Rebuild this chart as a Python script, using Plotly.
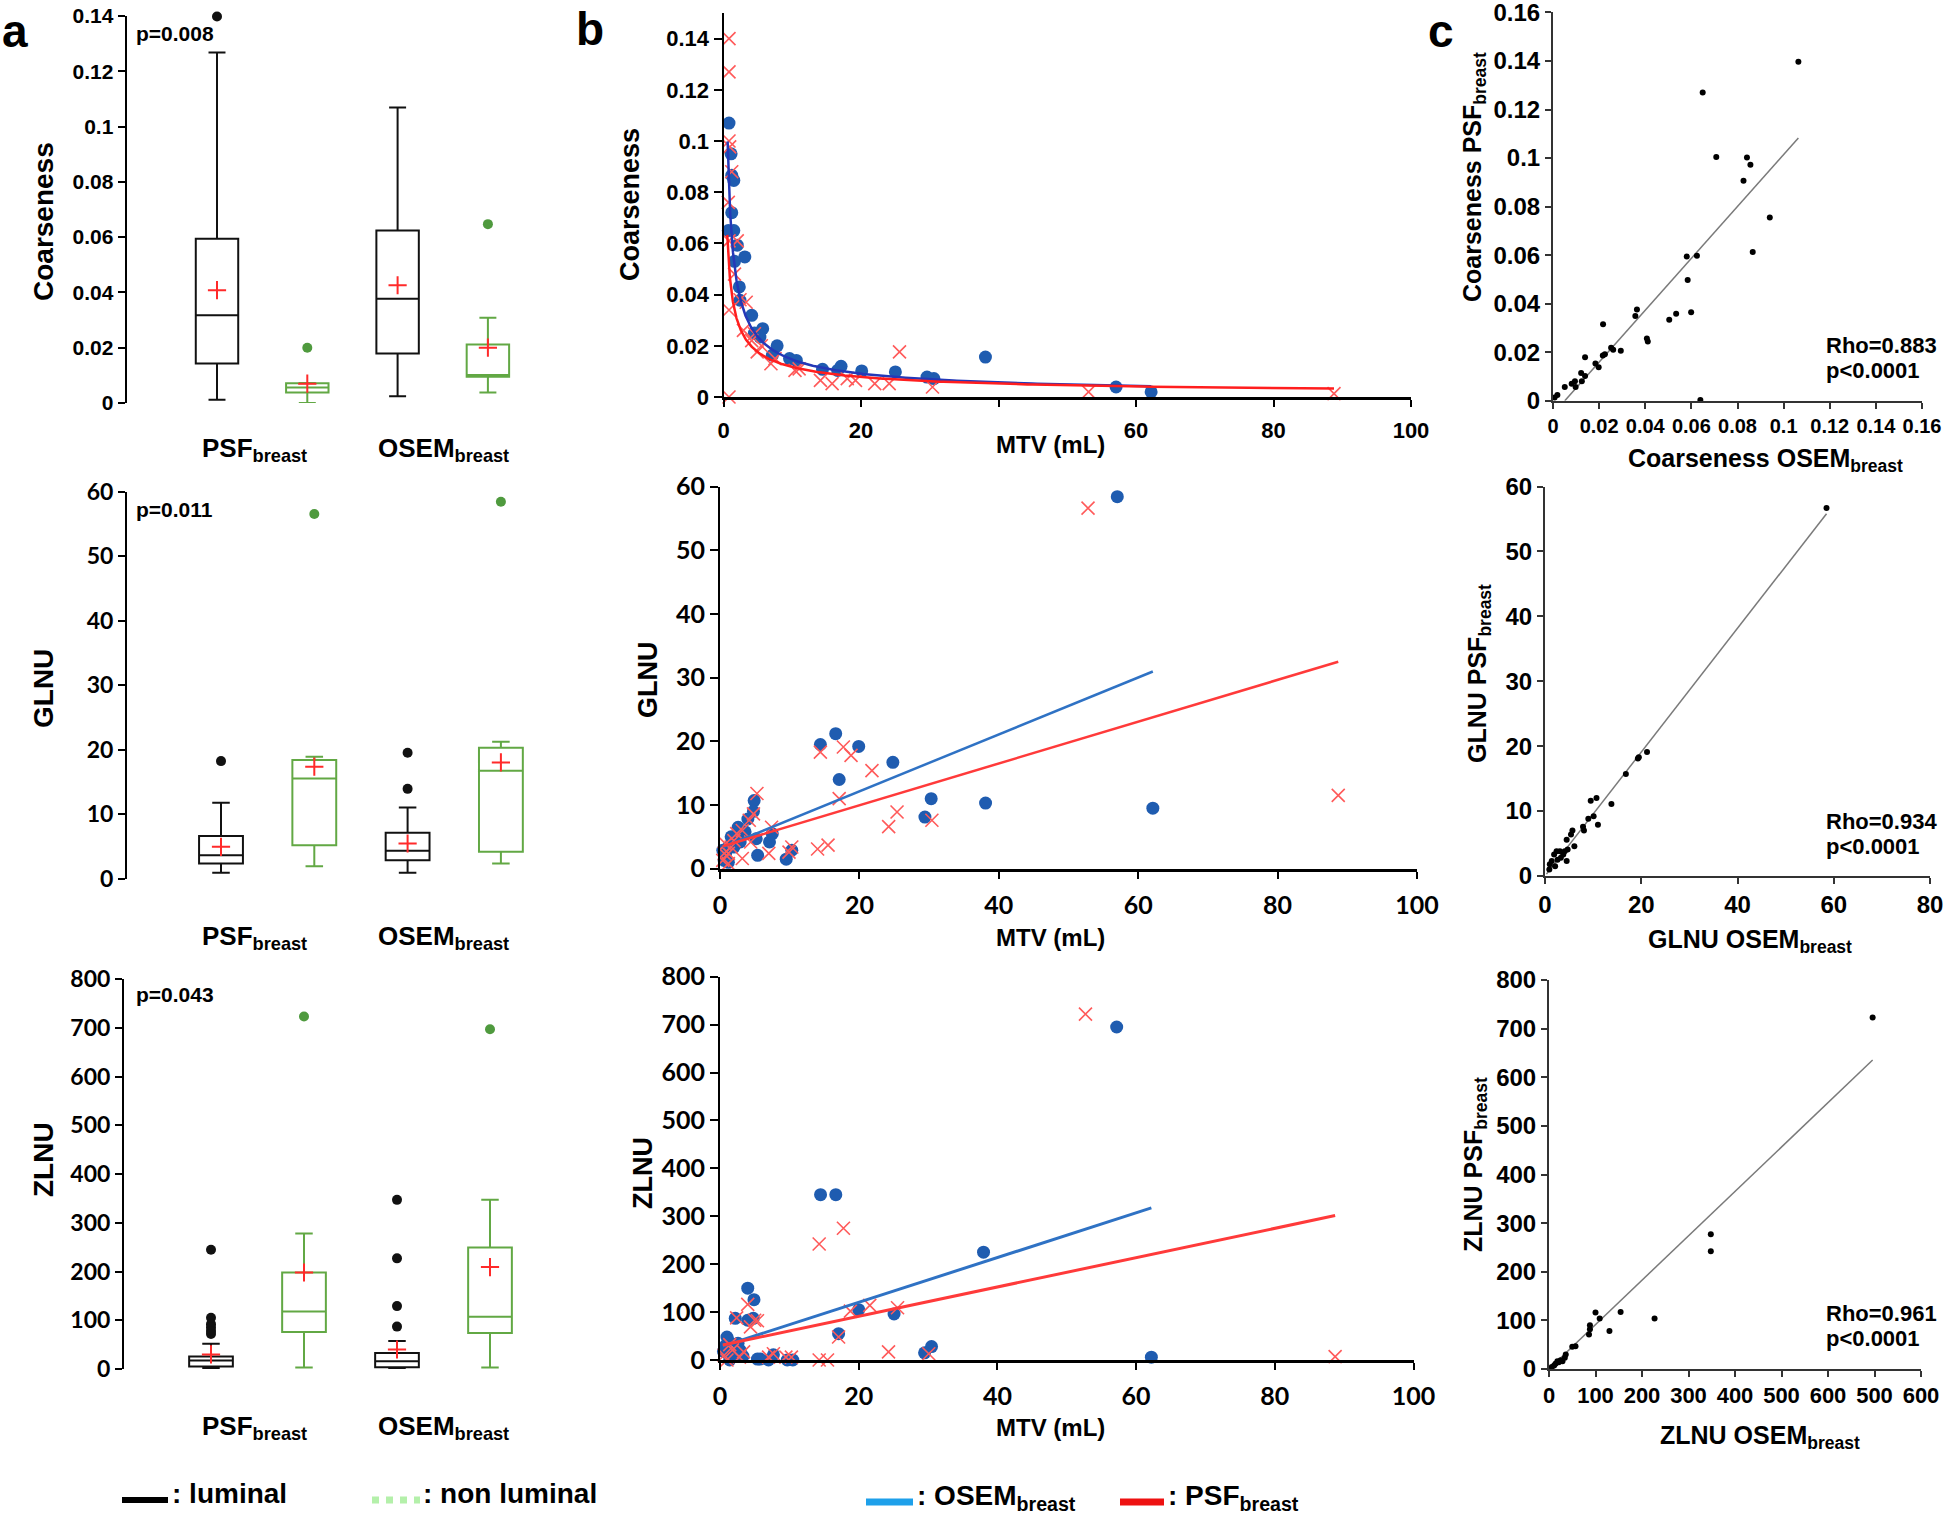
import numpy as np
import plotly.graph_objects as go

W, H = 1946, 1514

ARIAL = 'Liberation Sans, Arial, sans-serif'
CALIBRI = 'Lato, Open Sans, sans-serif'

# ---------------- panel a : box plots ----------------
# order: PSF luminal, PSF non luminal, OSEM luminal, OSEM non luminal
box_pos = [1, 2, 3, 4]

coarse_lo = [0.0012, 0.0000, 0.0024, 0.0038]
coarse_q1 = [0.0143, 0.0038, 0.0179, 0.0095]
coarse_med = [0.0317, 0.0056, 0.0377, 0.0101]
coarse_q3 = [0.0594, 0.0071, 0.0624, 0.0212]
coarse_hi = [0.1268, 0.0072, 0.1069, 0.0308]
coarse_mean = [0.0408, 0.0070, 0.0426, 0.0200]
coarse_out_pos = [1, 2, 4]
coarse_out_val = [0.1398, 0.0200, 0.0647]

glnu_lo = [0.88, 1.91, 0.88, 2.33]
glnu_q1 = [2.33, 5.17, 2.84, 4.14]
glnu_med = [3.62, 15.52, 4.29, 16.71]
glnu_q3 = [6.57, 18.36, 7.09, 20.28]
glnu_hi = [11.74, 18.88, 11.02, 21.2]
glnu_mean = [4.91, 17.33, 5.43, 18.0]
glnu_out_pos = [1, 2, 3, 3, 4]
glnu_out_val = [18.2, 56.5, 19.5, 13.9, 58.4]

zlnu_lo = [1.5, 3, 1.5, 3]
zlnu_q1 = [5, 75.7, 3.6, 74]
zlnu_med = [17.5, 118, 16, 107]
zlnu_q3 = [25.5, 198, 32.7, 249]
zlnu_hi = [51.7, 278, 57.5, 347]
zlnu_mean = [30, 198, 40, 209]
zlnu_out_pos = [1, 1, 1, 1, 1, 1, 2, 3, 3, 3, 3, 4]
zlnu_out_val = [244.5, 105, 92, 85, 78, 72, 723, 347, 227, 129, 87, 697]

p_values = ['p=0.008', 'p=0.011', 'p=0.043']

# ---------------- panel b : feature vs MTV ----------------
b_coarse_osem_x = [62.2, 57.1, 38.1, 30.6, 29.6, 25.0, 20.1, 17.1, 16.6, 14.4, 10.6, 9.6, 7.8, 7.1, 5.7,
                   5.3, 4.5, 4.1, 3.1, 2.3, 2.4, 2.0, 1.5, 1.6, 1.2, 1.5, 1.2, 1.1, 0.8, 0.7]
b_coarse_osem_y = [0.0020, 0.0039, 0.0156, 0.0072, 0.0078, 0.0098, 0.0102, 0.0120, 0.0104, 0.0108, 0.0143,
                   0.0150, 0.0200, 0.0163, 0.0267, 0.0234, 0.0250, 0.0319, 0.0547, 0.0430, 0.0378, 0.0593,
                   0.0650, 0.0530, 0.0720, 0.0846, 0.0866, 0.0950, 0.1070, 0.0650]
b_coarse_psf_x = [0.8, 0.8, 0.8, 0.9, 0.7, 0.8, 0.8, 0.8, 2.4, 3.3, 2.9, 4.1, 4.9, 4.5, 6.9, 10.4, 14.1,
                  15.8, 18.0, 19.2, 22.0, 24.1, 25.6, 30.4, 53.1, 88.8, 1.6, 2.0, 1.2, 7.5, 11.0, 5.5]
b_coarse_psf_y = [0.1400, 0.1270, 0.1000, 0.0977, 0.0760, 0.0610, 0.0340, 0.0000, 0.0380, 0.0370, 0.0260,
                  0.0220, 0.0176, 0.0247, 0.0130, 0.0104, 0.0065, 0.0052, 0.0072, 0.0065, 0.0052, 0.0052,
                  0.0176, 0.0039, 0.0020, 0.0013, 0.0480, 0.0610, 0.0880, 0.0150, 0.0110, 0.0200]
# power fits y = a * x**b : (a, b, x_start, x_end)
b_coarse_osem_fit = (0.0704, -0.683, 0.6, 62.2)
b_coarse_psf_fit = (0.0447, -0.582, 0.55, 88.8)

b_glnu_osem_x = [57.0, 62.1, 38.1, 30.3, 29.4, 24.8, 19.9, 16.6, 14.4, 17.1, 10.3, 9.5, 7.5, 7.1, 5.4, 5.2,
                 4.9, 4.8, 4.0, 3.6, 2.6, 2.4, 1.6, 1.2, 0.8, 1.2, 0.4, 0.6, 2.0, 2.9]
b_glnu_osem_y = [58.4, 9.5, 10.3, 11.0, 8.1, 16.7, 19.2, 21.2, 19.5, 14.0, 2.9, 1.5, 5.5, 4.2, 2.1, 4.7,
                 10.7, 9.0, 7.8, 5.8, 6.5, 4.7, 5.0, 3.4, 2.4, 1.0, 2.9, 1.3, 3.4, 4.2]
b_glnu_psf_x = [52.8, 88.7, 30.4, 25.4, 24.2, 21.8, 18.8, 17.7, 14.4, 17.1, 15.5, 14.0, 10.3, 9.9, 7.4, 7.0,
                5.3, 4.8, 4.2, 3.2, 3.2, 2.0, 1.2, 0.8, 0.4, 1.6, 2.4, 0.6, 1.2, 4.4]
b_glnu_psf_y = [56.6, 11.5, 7.6, 8.9, 6.6, 15.4, 17.8, 19.1, 18.3, 11.0, 3.7, 3.1, 3.4, 2.6, 6.5, 2.4,
                11.8, 8.6, 7.6, 6.0, 1.6, 4.4, 2.4, 3.9, 1.3, 3.4, 5.5, 2.4, 0.8, 4.2]
# linear fits y = slope * x + intercept : (slope, intercept, x_start, x_end)
b_glnu_osem_fit = (0.447, 3.2, 0.4, 62.1)
b_glnu_psf_fit = (0.328, 3.4, 0.4, 88.7)

b_zlnu_osem_x = [57.2, 62.2, 38.0, 30.5, 29.5, 25.1, 20.0, 16.7, 14.5, 17.1, 10.5, 9.7, 7.7, 7.0, 5.8, 5.4,
                 4.9, 4.8, 4.0, 4.0, 2.2, 2.6, 1.0, 0.5, 1.4, 1.8, 2.9, 0.8, 3.3, 1.2]
b_zlnu_osem_y = [695, 6, 225, 28, 15, 96, 105, 345, 345, 55, 0, 0, 11, 0, 2, 2,
                 126, 87, 150, 83, 87, 35, 48, 18, 0, 12, 20, 30, 8, 40]
b_zlnu_psf_x = [52.7, 88.7, 30.1, 25.6, 24.3, 21.6, 18.8, 17.8, 14.3, 17.1, 15.5, 14.3, 10.3, 9.5, 7.7, 7.0,
                5.4, 5.0, 4.4, 4.0, 2.4, 3.4, 1.4, 0.6, 1.0, 1.8, 2.8]
b_zlnu_psf_y = [722, 7, 13, 109, 17, 114, 102, 275, 242, 48, 0, 0, 6, 6, 13, 6,
                82, 83, 69, 116, 88, 17, 32, 10, 0, 21, 6]
b_zlnu_osem_fit = (4.67, 27, 0.4, 62.2)
b_zlnu_psf_fit = (3.06, 30, 0.4, 88.7)

# ---------------- panel c : PSF vs OSEM ----------------
c_coarse_osem = [0.1064, 0.0649, 0.0708, 0.0841, 0.0856, 0.0826, 0.0940, 0.0866, 0.0580, 0.0624, 0.0584,
                 0.0599, 0.0534, 0.0504, 0.0364, 0.0357, 0.0407, 0.0411, 0.0294, 0.0217, 0.0252, 0.0261,
                 0.0216, 0.0225, 0.0198, 0.0184, 0.0139, 0.0139, 0.0122, 0.0125, 0.0095, 0.0098, 0.0081,
                 0.0051, 0.0019, 0.0007, 0.0639]
c_coarse_psf = [0.1397, 0.1270, 0.1004, 0.1002, 0.0972, 0.0907, 0.0755, 0.0613, 0.0594, 0.0598, 0.0498,
                0.0365, 0.0359, 0.0334, 0.0376, 0.0349, 0.0257, 0.0244, 0.0206, 0.0315, 0.0219, 0.0210,
                0.0187, 0.0192, 0.0138, 0.0154, 0.0179, 0.0102, 0.0115, 0.0081, 0.0081, 0.0057, 0.0070,
                0.0057, 0.0024, 0.0014, 0.0003]
c_coarse_fit = (1.069, -0.00545, 0.0051, 0.1064)

c_glnu_osem = [58.5, 21.2, 19.3, 19.5, 16.8, 13.8, 10.7, 9.5, 10.1, 11.0, 9.0, 7.9, 8.1, 5.7, 6.1, 5.4,
               4.5, 4.7, 4.1, 3.8, 3.3, 4.5, 2.4, 1.9, 2.6, 1.4, 1.0, 0.9, 2.1, 3.1]
c_glnu_psf = [56.7, 19.1, 18.1, 18.3, 15.7, 11.1, 12.0, 11.6, 9.2, 7.9, 8.8, 7.6, 7.0, 7.0, 4.6, 6.4,
              5.6, 4.1, 3.8, 3.3, 2.8, 2.3, 3.8, 3.3, 2.5, 2.3, 1.8, 1.0, 1.5, 3.8]
c_glnu_fit = (0.954, 0.0, 0.3, 58.5)

c_zlnu_osem = [696, 348, 348, 227, 154, 130, 100, 109, 88, 88, 86, 57, 50, 36, 34, 25, 21, 14, 11, 6, 18, 29]
c_zlnu_psf = [723, 277, 242, 104, 117, 78, 116, 104, 90, 82, 71, 47, 46, 30, 23, 18, 14, 11, 7, 4, 16, 16]
c_zlnu_fit = (0.913, 0.0, 0.0, 696)

rho_texts = [('Rho=0.883', 'p&lt;0.0001'), ('Rho=0.934', 'p&lt;0.0001'), ('Rho=0.961', 'p&lt;0.0001')]

# tick labels
coarse_ticks = [0, 0.02, 0.04, 0.06, 0.08, 0.1, 0.12, 0.14]
coarse_ticks_c = [0, 0.02, 0.04, 0.06, 0.08, 0.1, 0.12, 0.14, 0.16]
glnu_ticks = [0, 10, 20, 30, 40, 50, 60]
zlnu_ticks = [0, 100, 200, 300, 400, 500, 600, 700, 800]
mtv_ticks = [0, 20, 40, 60, 80, 100]
glnu_ticks_c = [0, 20, 40, 60, 80]
zlnu_x_ticktext_c = ['0', '100', '200', '300', '400', '500', '600', '500', '600']

BLACK = '#111111'
GREEN = '#62a844'
GREEN_DOT = '#4f9a3e'
RED_PLUS = '#ff2a2a'
BLUE_DOT = '#1f5cb0'
RED_X = '#ff5a5a'


def fx(p):
    return p / W


def fy(p):
    return 1 - p / H


def lab(v):
    return f'{v:g}'


def tfont(size, family=ARIAL):
    return dict(family=family, size=size, color='black', weight='bold')


fig = go.Figure()
layout = {}
annotations = []


def axis_key(i):
    return '' if i == 1 else str(i)


def base_axis(**kw):
    d = dict(showline=True, linecolor='black', linewidth=2, ticks='outside', ticklen=7,
             tickwidth=2, tickcolor='black', showgrid=False, zeroline=False, mirror=False,
             automargin=False, tickangle=0)
    d.update(kw)
    return d


def note(text, x, y, size, family=ARIAL, xa='center', ya='middle', angle=0, color='black'):
    annotations.append(dict(text=text, x=fx(x), y=fy(y), xref='paper', yref='paper', xanchor=xa,
                            yanchor=ya, textangle=angle, showarrow=False,
                            font=dict(size=size, family=family, color=color)))


# ---- panel a layout: (axis_px, first_cat_px, step_px, right_px, top_px, bottom_px)
a_geo = [(126.6, 217, 90.3, 560, 16, 403),
         (127, 221, 93.3, 560, 491.5, 878.5),
         (124, 211, 93, 560, 979, 1369)]
a_stats = [
    (coarse_lo, coarse_q1, coarse_med, coarse_q3, coarse_hi, coarse_mean, coarse_out_pos, coarse_out_val),
    (glnu_lo, glnu_q1, glnu_med, glnu_q3, glnu_hi, glnu_mean, glnu_out_pos, glnu_out_val),
    (zlnu_lo, zlnu_q1, zlnu_med, zlnu_q3, zlnu_hi, zlnu_mean, zlnu_out_pos, zlnu_out_val),
]
a_yticks = [coarse_ticks, glnu_ticks, zlnu_ticks]
a_yfont = [tfont(21), tfont(23, CALIBRI), tfont(23, CALIBRI)]
a_titles = ['Coarseness', 'GLNU', 'ZLNU']
a_title_y = [222, 689, 1160]
a_label_y = [449, 937, 1427]
p_y = [33, 509, 994]

for r in range(3):
    i = r + 1
    k = axis_key(i)
    axis_px, first, step, right, top, bot = a_geo[r]
    x0 = 1 - (first - axis_px) / step
    x1 = 1 + (right - first) / step
    layout['xaxis' + k] = dict(domain=[fx(axis_px), fx(right)], range=[x0, x1], visible=False,
                               automargin=False, anchor='y' + k)
    ticks = a_yticks[r]
    layout['yaxis' + k] = base_axis(domain=[fy(bot), fy(top)], range=[ticks[0], ticks[-1]],
                                    tickvals=ticks, ticktext=[lab(t) for t in ticks],
                                    tickfont=a_yfont[r], anchor='x' + k)
    lo, q1, med, q3, hi, mean, opos, oval = a_stats[r]
    for j in range(4):
        col = BLACK if j % 2 == 0 else GREEN
        fig.add_trace(go.Box(x=[box_pos[j]], lowerfence=[lo[j]], q1=[q1[j]], median=[med[j]], q3=[q3[j]],
                             upperfence=[hi[j]], width=0.47, whiskerwidth=0.4, boxpoints=False,
                             line=dict(color=col, width=2), fillcolor='rgba(0,0,0,0)',
                             xaxis='x' + k, yaxis='y' + k, showlegend=False, hoverinfo='skip'))
    fig.add_trace(go.Scatter(x=opos, y=oval, mode='markers', xaxis='x' + k, yaxis='y' + k,
                             marker=dict(size=10, color=[BLACK if p % 2 == 1 else GREEN_DOT for p in opos]),
                             showlegend=False, cliponaxis=False, hoverinfo='skip'))
    fig.add_trace(go.Scatter(x=box_pos, y=mean, mode='markers', xaxis='x' + k, yaxis='y' + k,
                             marker=dict(symbol='cross-thin', size=13, line=dict(color=RED_PLUS, width=2)),
                             showlegend=False, cliponaxis=False, hoverinfo='skip'))
    note('<b>' + a_titles[r] + '</b>', 43, a_title_y[r], 28, angle=-90)
    note('<b>' + p_values[r] + '</b>', 134, p_y[r], 21, xa='left')
    note('<b>PSF<sub>breast</sub></b>', 254, a_label_y[r], 26)
    note('<b>OSEM<sub>breast</sub></b>', 443, a_label_y[r], 26)

# ---- panel b layout: (left_px, right_px, top_px, bottom_px)
b_geo = [(723.5, 1411, 13, 397), (720, 1417, 486.5, 868.7), (720, 1413.5, 976.7, 1360)]
b_yrange = [[0, 0.15], [0, 60], [0, 800]]
b_yticks = [coarse_ticks, glnu_ticks, zlnu_ticks]
b_data = [
    (b_coarse_osem_x, b_coarse_osem_y, b_coarse_psf_x, b_coarse_psf_y, b_coarse_osem_fit, b_coarse_psf_fit),
    (b_glnu_osem_x, b_glnu_osem_y, b_glnu_psf_x, b_glnu_psf_y, b_glnu_osem_fit, b_glnu_psf_fit),
    (b_zlnu_osem_x, b_zlnu_osem_y, b_zlnu_psf_x, b_zlnu_psf_y, b_zlnu_osem_fit, b_zlnu_psf_fit),
]
b_titles = ['Coarseness', 'GLNU', 'ZLNU']
b_title_pos = [(630, 205), (648, 680), (643, 1173)]
b_mtv_y = [444, 937, 1427]
b_tickfont = [tfont(22), tfont(25, CALIBRI), tfont(25, CALIBRI)]

for r in range(3):
    i = r + 4
    k = axis_key(i)
    left, right, top, bot = b_geo[r]
    xt = [lab(t) for t in mtv_ticks]
    if r == 0:
        xt[2] = ''
    layout['xaxis' + k] = base_axis(domain=[fx(left), fx(right)], range=[0, 100], tickvals=mtv_ticks,
                                    ticktext=xt, tickfont=b_tickfont[r], linewidth=3, ticklen=7,
                                    ticklabelstandoff=5, anchor='y' + k)
    yt = b_yticks[r]
    layout['yaxis' + k] = base_axis(domain=[fy(bot), fy(top)], range=b_yrange[r], tickvals=yt,
                                    ticktext=[lab(t) for t in yt], tickfont=b_tickfont[r], ticklen=8,
                                    anchor='x' + k)
    ox, oy, px_, py_, ofit, pfit = b_data[r]
    if r == 0:
        fx_o = np.geomspace(ofit[2], ofit[3], 300)
        fy_o = ofit[0] * fx_o ** ofit[1]
        fx_p = np.geomspace(pfit[2], pfit[3], 300)
        fy_p = pfit[0] * fx_p ** pfit[1]
        ocol, pcol, lw = '#2438b8', '#ff1e1e', 2.5
    else:
        fx_o = np.array([ofit[2], ofit[3]])
        fy_o = ofit[0] * fx_o + ofit[1]
        fx_p = np.array([pfit[2], pfit[3]])
        fy_p = pfit[0] * fx_p + pfit[1]
        ocol, pcol, lw = '#2f72c4', '#ff3a3a', 2.5 if r == 1 else 3
    fig.add_trace(go.Scatter(x=ox, y=oy, mode='markers', xaxis='x' + k, yaxis='y' + k,
                             marker=dict(size=13, color=BLUE_DOT), showlegend=False,
                             cliponaxis=False, hoverinfo='skip'))
    fig.add_trace(go.Scatter(x=px_, y=py_, mode='markers', xaxis='x' + k, yaxis='y' + k,
                             marker=dict(symbol='x-thin', size=13, line=dict(color=RED_X, width=1.6)),
                             showlegend=False, cliponaxis=False, hoverinfo='skip'))
    fig.add_trace(go.Scatter(x=fx_o, y=fy_o, mode='lines', xaxis='x' + k, yaxis='y' + k,
                             line=dict(color=ocol, width=lw), showlegend=False, hoverinfo='skip'))
    fig.add_trace(go.Scatter(x=fx_p, y=fy_p, mode='lines', xaxis='x' + k, yaxis='y' + k,
                             line=dict(color=pcol, width=lw), showlegend=False, hoverinfo='skip'))
    note('<b>' + b_titles[r] + '</b>', b_title_pos[r][0], b_title_pos[r][1], 27, angle=-90)
    note('<b>MTV (mL)</b>', 1050, b_mtv_y[r], 24)

# ---- panel c layout: (left_px, right_px, top_px, bottom_px)
c_geo = [(1553, 1922, 12.4, 400.8), (1545, 1930, 486.5, 876), (1549, 1921, 980, 1369)]
c_xticks = [coarse_ticks_c, glnu_ticks_c, zlnu_ticks]
c_xtext = [[lab(t) for t in coarse_ticks_c], [lab(t) for t in glnu_ticks_c], zlnu_x_ticktext_c]
c_yticks = [coarse_ticks_c, glnu_ticks, zlnu_ticks]
c_data = [(c_coarse_osem, c_coarse_psf, c_coarse_fit), (c_glnu_osem, c_glnu_psf, c_glnu_fit),
          (c_zlnu_osem, c_zlnu_psf, c_zlnu_fit)]
c_names = ['Coarseness', 'GLNU', 'ZLNU']
c_ytitle_pos = [(1474, 177), (1479, 674), (1475, 1165)]
c_xtitle_pos = [(1765, 460), (1750, 941), (1760, 1437)]
c_rho_y = [(345, 370), (821, 846), (1313, 1338)]
c_xtickfont = [tfont(20), tfont(24), tfont(22)]

for r in range(3):
    i = r + 7
    k = axis_key(i)
    left, right, top, bot = c_geo[r]
    xt = c_xticks[r]
    yt = c_yticks[r]
    layout['xaxis' + k] = base_axis(domain=[fx(left), fx(right)], range=[xt[0], xt[-1]], tickvals=xt,
                                    ticktext=c_xtext[r], tickfont=c_xtickfont[r], linecolor='#333333',
                                    tickcolor='#333333', ticklen=6, anchor='y' + k)
    layout['yaxis' + k] = base_axis(domain=[fy(bot), fy(top)], range=[yt[0], yt[-1]], tickvals=yt,
                                    ticktext=[lab(t) for t in yt], tickfont=tfont(24),
                                    linecolor='#333333', tickcolor='#333333', ticklen=6, anchor='x' + k)
    ox, py_, fit = c_data[r]
    lx = np.array([fit[2], fit[3]])
    ly = fit[0] * lx + fit[1]
    fig.add_trace(go.Scatter(x=lx, y=ly, mode='lines', xaxis='x' + k, yaxis='y' + k,
                             line=dict(color='#7a7a7a', width=1.5), showlegend=False, hoverinfo='skip'))
    fig.add_trace(go.Scatter(x=ox, y=py_, mode='markers', xaxis='x' + k, yaxis='y' + k,
                             marker=dict(size=6, color='black'), showlegend=False,
                             cliponaxis=False, hoverinfo='skip'))
    note('<b>' + c_names[r] + ' PSF<sub>breast</sub></b>', c_ytitle_pos[r][0], c_ytitle_pos[r][1], 25,
         angle=-90)
    note('<b>' + c_names[r] + ' OSEM<sub>breast</sub></b>', c_xtitle_pos[r][0], c_xtitle_pos[r][1], 25)
    note('<b>' + rho_texts[r][0] + '</b>', 1824, c_rho_y[r][0], 22, xa='left')
    note('<b>' + rho_texts[r][1] + '</b>', 1824, c_rho_y[r][1], 22, xa='left')

# panel letters
note('<b>a</b>', 15, 31, 46)
note('<b>b</b>', 590, 29, 46)
note('<b>c</b>', 1441, 31, 46)

# legends (drawn as keys under the panels)
shapes = [
    dict(type='line', xref='paper', yref='paper', x0=fx(122), x1=fx(168), y0=fy(1500), y1=fy(1500),
         line=dict(color='black', width=6)),
    dict(type='line', xref='paper', yref='paper', x0=fx(372), x1=fx(420), y0=fy(1500), y1=fy(1500),
         line=dict(color='#b4f0aa', width=7, dash='dot')),
    dict(type='line', xref='paper', yref='paper', x0=fx(866), x1=fx(913), y0=fy(1502), y1=fy(1502),
         line=dict(color='#1ea0ea', width=7)),
    dict(type='line', xref='paper', yref='paper', x0=fx(1120), x1=fx(1164), y0=fy(1502), y1=fy(1502),
         line=dict(color='#ee1111', width=7)),
]
note('<b>: luminal</b>', 170, 1493, 28, xa='left')
note('<b>: non luminal</b>', 421, 1493, 28, xa='left')
note('<b>: OSEM<sub>breast</sub></b>', 915, 1497, 28, xa='left')
note('<b>: PSF<sub>breast</sub></b>', 1166, 1497, 28, xa='left')

fig.update_layout(
    width=W,
    height=H,
    autosize=False,
    margin=dict(l=0, r=0, t=0, b=0),
    paper_bgcolor='white',
    plot_bgcolor='rgba(0,0,0,0)',
    showlegend=False,
    annotations=annotations,
    shapes=shapes,
    **layout,
)

fig.write_html("out.html", config={'displayModeBar': False},
               post_script="document.body.style.margin='0';document.body.style.overflow='hidden';")
